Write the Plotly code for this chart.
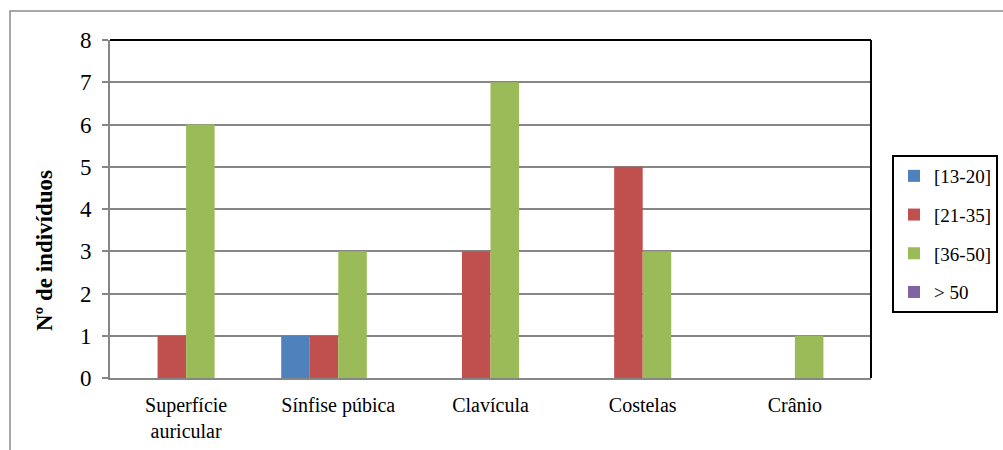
import plotly.graph_objects as go

categories = ["Superfície<br>auricular", "Sínfise púbica", "Clavícula", "Costelas", "Crânio"]
age_groups = ["[13-20]", "[21-35]", "[36-50]", "> 50"]
v_13_20 = [0, 1, 0, 0, 0]
v_21_35 = [1, 1, 3, 5, 0]
v_36_50 = [6, 3, 7, 3, 1]
v_50_plus = [0, 0, 0, 0, 0]
colors = ["#4F81BD", "#C0504D", "#9BBB59", "#8064A2"]
y_ticks = [0, 1, 2, 3, 4, 5, 6, 7, 8]
y_title = "<b>Nº de indivíduos</b>"

series = [v_13_20, v_21_35, v_36_50, v_50_plus]

fig = go.Figure()
for i, (name, vals) in enumerate(zip(age_groups, series)):
    fig.add_trace(go.Bar(
        x=categories, y=vals, name=name,
        marker=dict(color=colors[i], line=dict(width=0)),
        legendgroup=name,
    ))

SERIF = "Times New Roman"

# plot area spans 110..871 px horizontally and 40..378 px vertically
PX_L, PX_R, PX_T, PX_B = 110, 871, 40, 378
W, H = 1003, 450


def px_x(px):
    return (px - PX_L) / (PX_R - PX_L)


def px_y(py):
    return (PX_B - py) / (PX_B - PX_T)


fig.update_layout(
    template="none",
    width=W, height=H,
    margin=dict(l=PX_L, r=W - PX_R, t=PX_T, b=H - PX_B, autoexpand=False),
    paper_bgcolor="white", plot_bgcolor="white",
    barmode="group", bargap=0.25, bargroupgap=0,
    font=dict(family=SERIF, color="black", size=20),
    showlegend=True,
    legend=dict(
        x=px_x(892), y=px_y(155), xanchor="left", yanchor="top",
        bordercolor="black", borderwidth=2,
        font=dict(family=SERIF, size=19, color="black"),
        tracegroupgap=11, itemwidth=30,
    ),
    xaxis=dict(
        showline=True, linecolor="#868686", linewidth=2,
        ticks="", tickfont=dict(family=SERIF, size=20, color="black"),
        ticklabelstandoff=8,
        showgrid=False,
    ),
    yaxis=dict(
        range=[0, 8], tickvals=y_ticks, showline=True, linecolor="#868686", linewidth=2,
        ticks="outside", ticklen=6, tickcolor="#868686", tickwidth=1.5,
        showgrid=True, gridcolor="#868686", gridwidth=1.5,
        tickfont=dict(family=SERIF, size=23, color="black"),
        ticklabelstandoff=6,
        zeroline=False,
    ),
)

# rotated axis title
fig.add_annotation(
    text=y_title, textangle=-90, showarrow=False,
    xref="paper", yref="paper", x=px_x(44), y=px_y(251),
    xanchor="center", yanchor="middle",
    font=dict(family=SERIF, size=23, color="black"),
)

# black frame lines on top and right of the plotting area
fig.add_shape(type="line", xref="paper", yref="paper", x0=0, x1=1, y0=1, y1=1,
              line=dict(color="black", width=2))
fig.add_shape(type="line", xref="paper", yref="paper", x0=1, x1=1, y0=0, y1=1,
              line=dict(color="black", width=2))

# outer chart border (runs off the right and bottom edges)
fig.add_shape(type="rect", xref="paper", yref="paper",
              x0=px_x(10), x1=px_x(1015),
              y0=px_y(460), y1=px_y(11),
              line=dict(color="#8C8C8C", width=1.5), layer="below")

fig.write_html("out.html")
